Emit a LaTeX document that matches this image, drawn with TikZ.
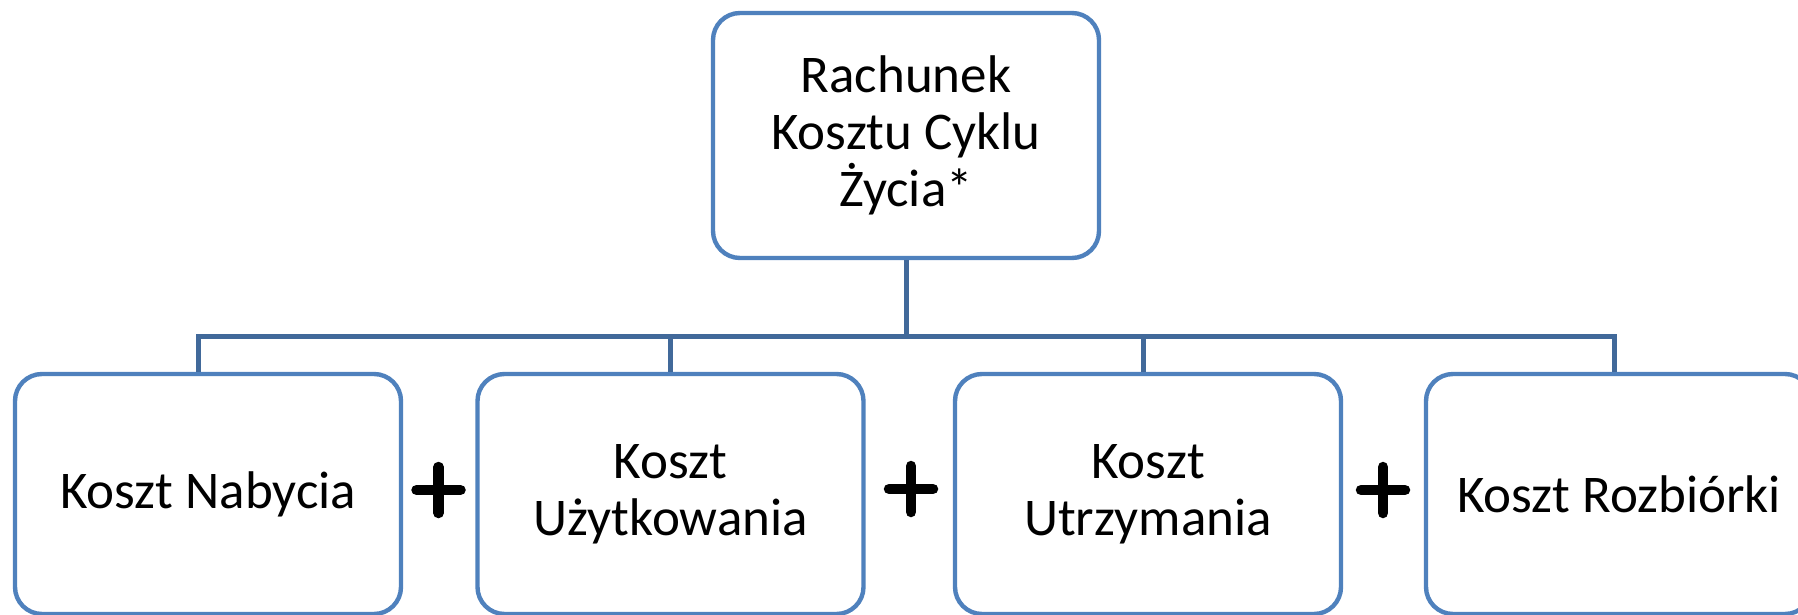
\documentclass[tikz,border=0pt]{standalone}
\usepackage{fontspec}
\setmainfont{Carlito}
\definecolor{boxblue}{HTML}{4F81BD}
\definecolor{linkblue}{HTML}{41699A}
\begin{document}
\begin{tikzpicture}[x=1pt,y=-1pt,
  costbox/.style={draw=boxblue, line width=4.4pt, rounded corners=27pt, fill=white,
    minimum width=386pt, inner sep=0pt, align=center,
    font=\fontsize{53}{57}\selectfont, text=black},
  linkline/.style={draw=linkblue, line width=5pt},
  plussign/.style={draw=black, line width=10.5pt, line cap=round}]
\useasboundingbox (0,0) rectangle (1798,615);
\clip (0,0) rectangle (1798,615);
% top box
\node[costbox, minimum height=245pt] (top) at (906,135.5) {Rachunek\\Kosztu Cyklu\\Życia*};
% bottom boxes
\node[costbox, minimum height=240pt] (b1) at (208,494) {Koszt Nabycia};
\node[costbox, minimum height=240pt] (b2) at (670.5,494) {Koszt\\Użytkowania};
\node[costbox, minimum height=240pt] (b3) at (1148,494) {Koszt\\Utrzymania};
\node[costbox, minimum height=240pt] (b4) at (1619,494) {Koszt Rozbiórki};
% connector points on the bar
\coordinate (c1) at (198,336);
\coordinate (c2) at (670.5,336);
\coordinate (c3) at (1143,336);
\coordinate (c4) at (1614,336);
\draw[linkline] (top.south) -- (top.south |- c1);
\draw[linkline, line cap=rect] (c1) -- (c4);
\draw[linkline] (c1) -- (c1 |- b1.north);
\draw[linkline] (c2) -- (c2 |- b2.north);
\draw[linkline] (c3) -- (c3 |- b3.north);
\draw[linkline] (c4) -- (c4 |- b4.north);
% plus signs
\coordinate (p1) at (438.5,490);
\coordinate (p2) at (911,489);
\coordinate (p3) at (1383,490);
\foreach \p in {p1,p2,p3}{
  \draw[plussign] ([xshift=-22pt]\p) -- ([xshift=22pt]\p);
  \draw[plussign] ([yshift=-23pt]\p) -- ([yshift=23pt]\p);
}
\end{tikzpicture}
\end{document}
